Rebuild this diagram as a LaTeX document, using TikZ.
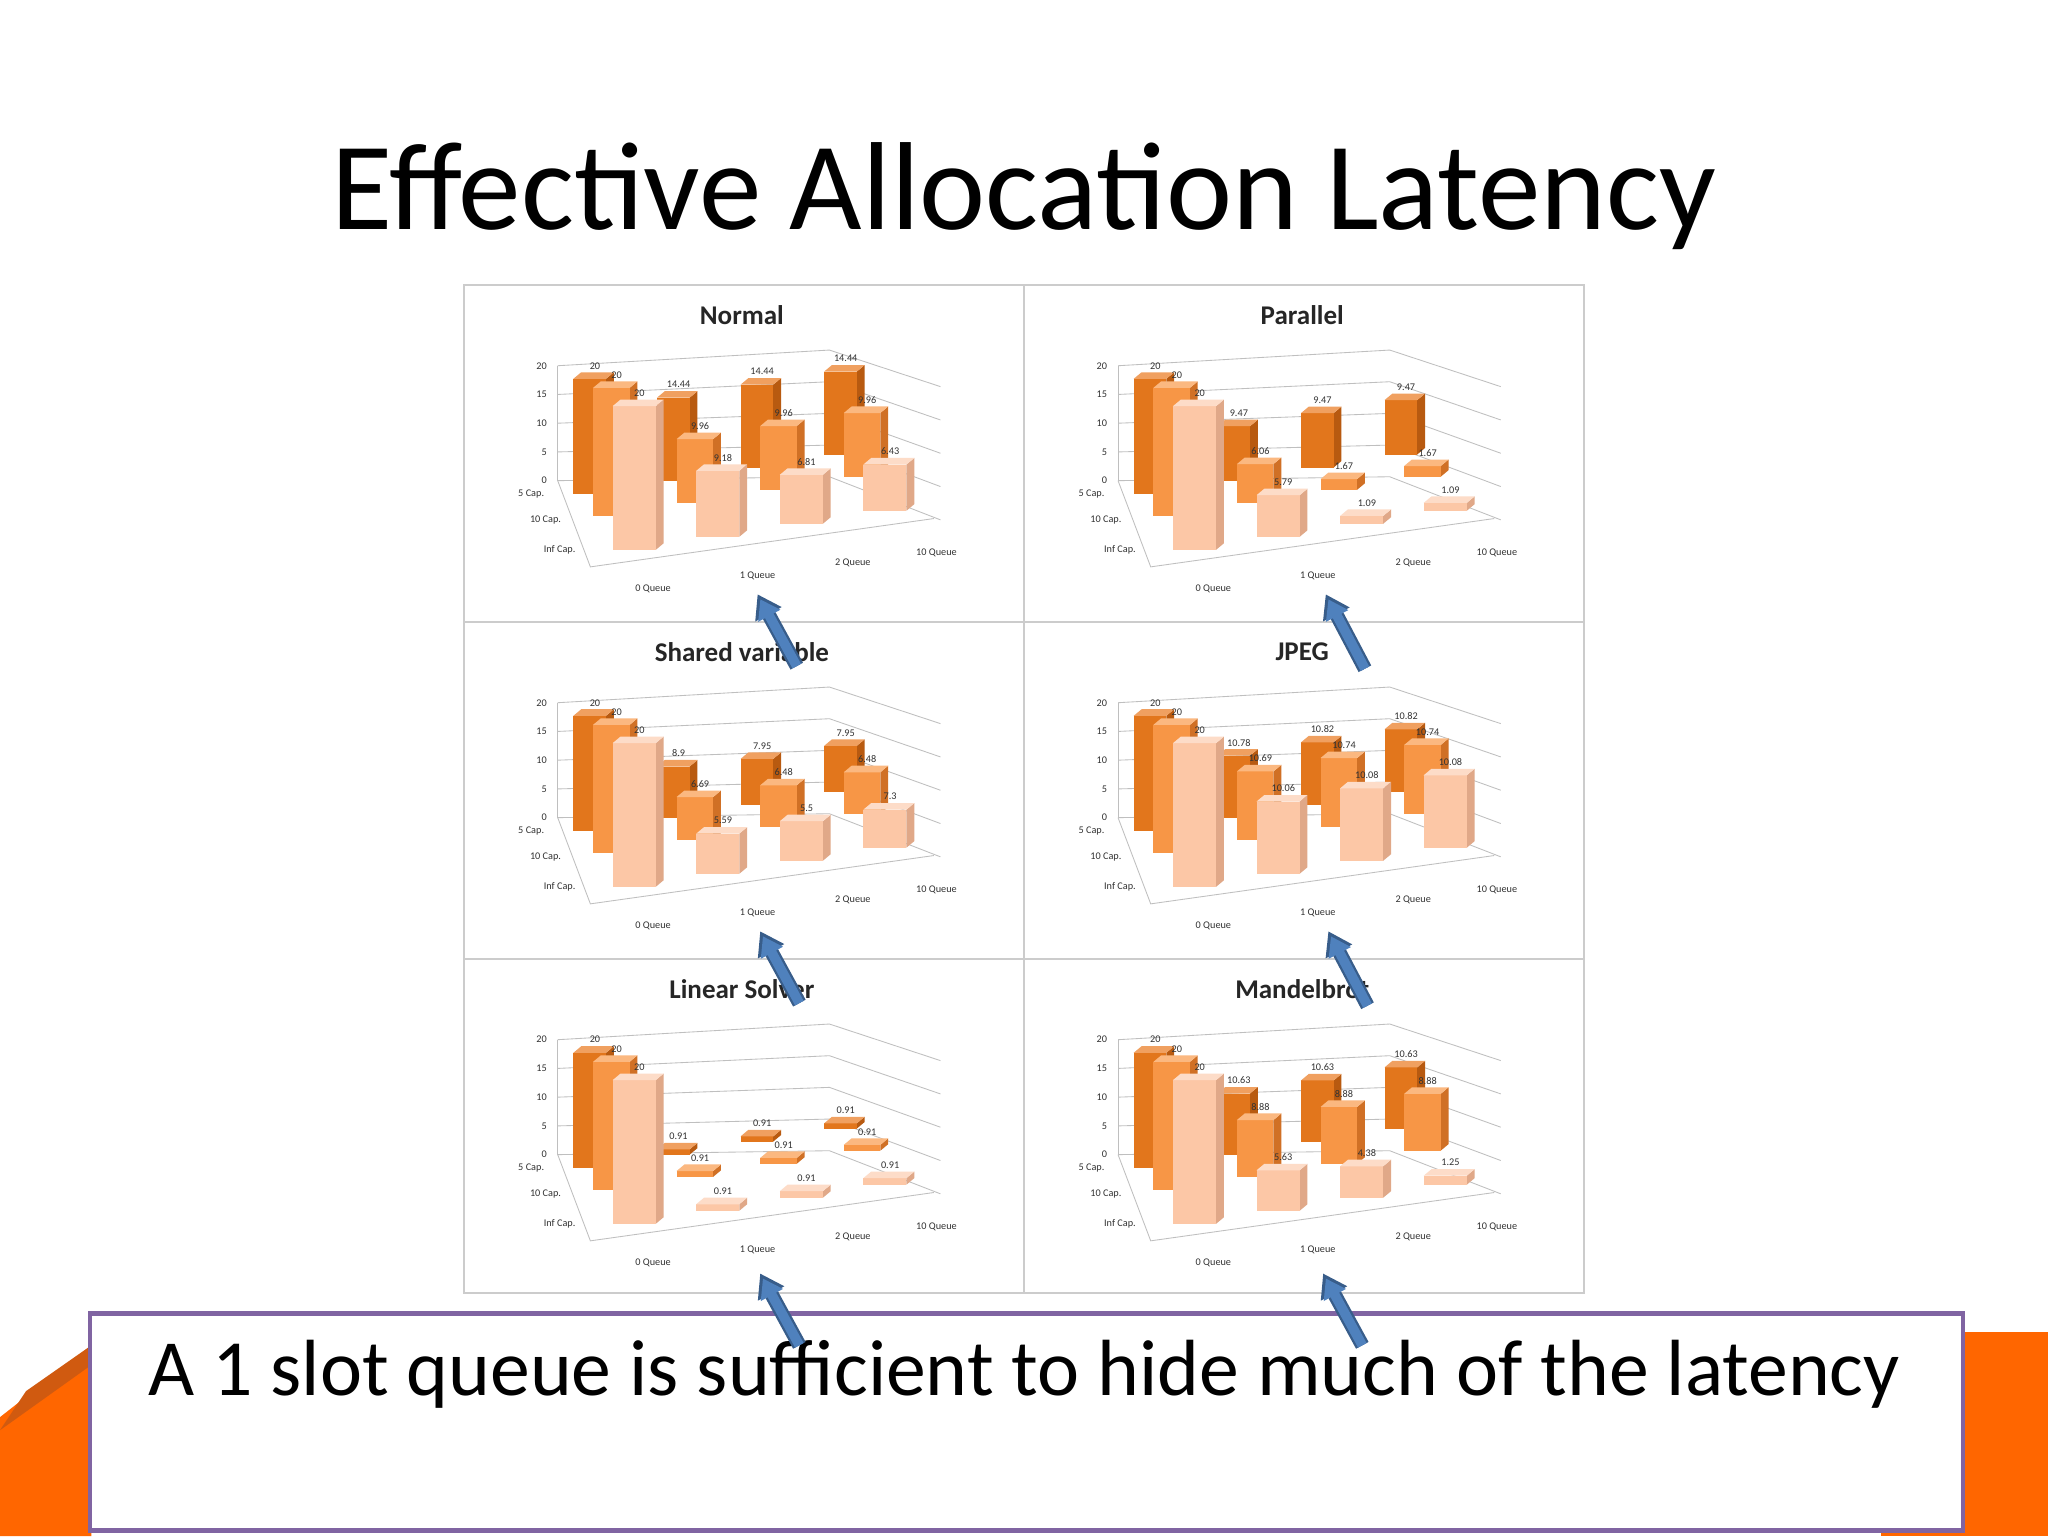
\documentclass[tikz,border=0pt]{standalone}
\usepackage{fontspec}
\setmainfont{Carlito}
\usetikzlibrary{arrows.meta}
\definecolor{bf0}{HTML}{E2761C}\definecolor{bs0}{HTML}{B85A10}\definecolor{bt0}{HTML}{F0A060}
\definecolor{bf1}{HTML}{F79646}\definecolor{bs1}{HTML}{D07025}\definecolor{bt1}{HTML}{FBB880}
\definecolor{bf2}{HTML}{FCC7A6}\definecolor{bs2}{HTML}{E0A888}\definecolor{bt2}{HTML}{FDDCC8}
\definecolor{slideor}{HTML}{FF6600}\definecolor{darkor}{HTML}{D05A10}
\definecolor{boxpur}{HTML}{8064A2}\definecolor{arrblue}{HTML}{4F81BD}\definecolor{arrdark}{HTML}{385D8A}
\tikzset{lab/.style={font=\fontsize{3.6}{4}\selectfont,text=black!80,inner sep=0pt},
 grid/.style={draw=black!25,line width=0.3pt},
 ctitle/.style={font=\fontsize{9.5}{11}\bfseries\selectfont,text=black!85},
 callout/.style={draw=arrdark,fill=arrblue,line width=0.4pt}}
\newcommand\chbar[4]{%
 \pgfmathsetmacro\bx{(#1==0?84:(#1==1?99:114))+64*#2}%
 \pgfmathsetmacro\by{(#1==0?160:(#1==1?177:203))-10*#2}%
 \pgfmathsetmacro\bw{(#1==0?25:(#1==1?28:33))}%
 \pgfmathsetmacro\bh{(#1==0?4.4:(#1==1?4.9:5.5))*#3}%
 \fill[bs#1] (\bx+\bw,\by) -- ++(6,-5) -- ++(0,-\bh) -- ++(-6,5) -- cycle;
 \fill[bf#1] (\bx,\by) rectangle ++(\bw,-\bh);
 \fill[bt#1] (\bx,\by-\bh) -- ++(6,-5) -- ++(\bw,0) -- ++(-6,5) -- cycle;
 \node[lab] at (\bx+\bw/2+4,\by-\bh-10) {#4};
}
\newcommand\chart[6]{% ox oy title r0 r1 r2
 \begin{scope}[shift={(#1,#2)}]
  \node[ctitle] at (213,23) {#3};
  \foreach \v in {0,5,10,15,20}{
   \draw[grid] (72,150-4.4*\v) -- (280,147-4.85*\v) -- (365,180-5.1*\v);
   \node[lab,anchor=east] at (64,150-4.4*\v) {\v};}
  \draw[grid] (72,150) -- (97,216) -- (360,179);
  \draw[grid] (72,62) -- (72,150);
  \node[lab,anchor=east] at (62,160) {5 Cap.};
  \node[lab,anchor=east] at (75,180) {10 Cap.};
  \node[lab,anchor=east] at (86,203) {Inf Cap.};
  \node[lab] at (145,233) {0 Queue};
  \node[lab] at (225,223) {1 Queue};
  \node[lab] at (298,213) {2 Queue};
  \node[lab] at (362,205) {10 Queue};
  \foreach \r/\vals in {0/{#4},1/{#5},2/{#6}}{
   \foreach \v/\l [count=\c from 0] in \vals { \chbar{\r}{\c}{\v}{\l} }}
 \end{scope}}
\begin{document}
\begin{tikzpicture}[x=0.459pt,y=-0.459pt]
\useasboundingbox (0,0) rectangle (1568,1176);
\fill[white] (0,0) rectangle (1568,1176);
% slide decoration
\fill[slideor] (1440,1020) -- (1568,1020) -- (1568,1176) -- (1440,1176) -- cycle;
\fill[slideor] (0,1176) -- (0,1085) -- (70,1030) -- (70,1176) -- cycle;
\fill[darkor] (0,1095) -- (20,1065) -- (70,1030) -- (70,1045) -- cycle;
\node[font=\fontsize{44}{50}\selectfont] (title) at (784,150) {Effective Allocation Latency};
% chart grid
\draw[draw=black!20,line width=0.6pt,fill=white] (355,218) rectangle (1213,990);
\draw[black!20,line width=0.6pt] (784,218) -- (784,990) (355,476) -- (1213,476) (355,734) -- (1213,734);
\chart{355}{218}{Normal}{20/20,14.44/14.44,14.44/14.44,14.44/14.44}{20/20,9.96/9.96,9.96/9.96,9.96/9.96}{20/20,9.18/9.18,6.81/6.81,6.43/6.43}
\chart{784}{218}{Parallel}{20/20,9.47/9.47,9.47/9.47,9.47/9.47}{20/20,6.06/6.06,1.67/1.67,1.67/1.67}{20/20,5.79/5.79,1.09/1.09,1.09/1.09}
\chart{355}{476}{Shared variable}{20/20,8.9/8.9,7.95/7.95,7.95/7.95}{20/20,6.69/6.69,6.48/6.48,6.48/6.48}{20/20,5.59/5.59,5.5/5.5,5.3/7.3}
\chart{784}{476}{JPEG}{20/20,10.78/10.78,10.82/10.82,10.82/10.82}{20/20,10.69/10.69,10.74/10.74,10.74/10.74}{20/20,10.06/10.06,10.08/10.08,10.08/10.08}
\chart{355}{734}{Linear Solver}{20/20,0.91/0.91,0.91/0.91,0.91/0.91}{20/20,0.91/0.91,0.91/0.91,0.91/0.91}{20/20,0.91/0.91,0.91/0.91,0.91/0.91}
\chart{784}{734}{Mandelbrot}{20/20,10.63/10.63,10.63/10.63,10.63/10.63}{20/20,8.88/8.88,8.88/8.88,8.88/8.88}{20/20,5.63/5.63,4.38/4.38,1.25/1.25}
% text box
\node[draw=boxpur,line width=1.6pt,fill=white,minimum width=1434*0.459pt,minimum height=166*0.459pt,anchor=north west,inner sep=0pt] (box) at (67,1004) {};
\node[font=\fontsize{28}{32}\selectfont] (msg) at (784,1052) {A 1 slot queue is sufficient to hide much of the latency};
% arrows
\foreach \n/\tx/\ty/\hx/\hy in {a/610/510/580/455, b/1045/512/1015/455, c/612/768/582/713, d/1047/770/1017/713, e/612/1030/582/975, f/1043/1030/1013/975}{
 \coordinate (\n t) at (\tx,\ty); \coordinate (\n h) at (\hx,\hy);
 \draw[arrdark,line width=5pt,-{Triangle[width=10pt,length=8pt]}] (\n t) -- (\n h);
 \draw[arrblue,line width=3.4pt,shorten >=2pt,-{Triangle[width=8.4pt,length=6.6pt]}] (\n t) -- (\n h);
}
\end{tikzpicture}
\end{document}
